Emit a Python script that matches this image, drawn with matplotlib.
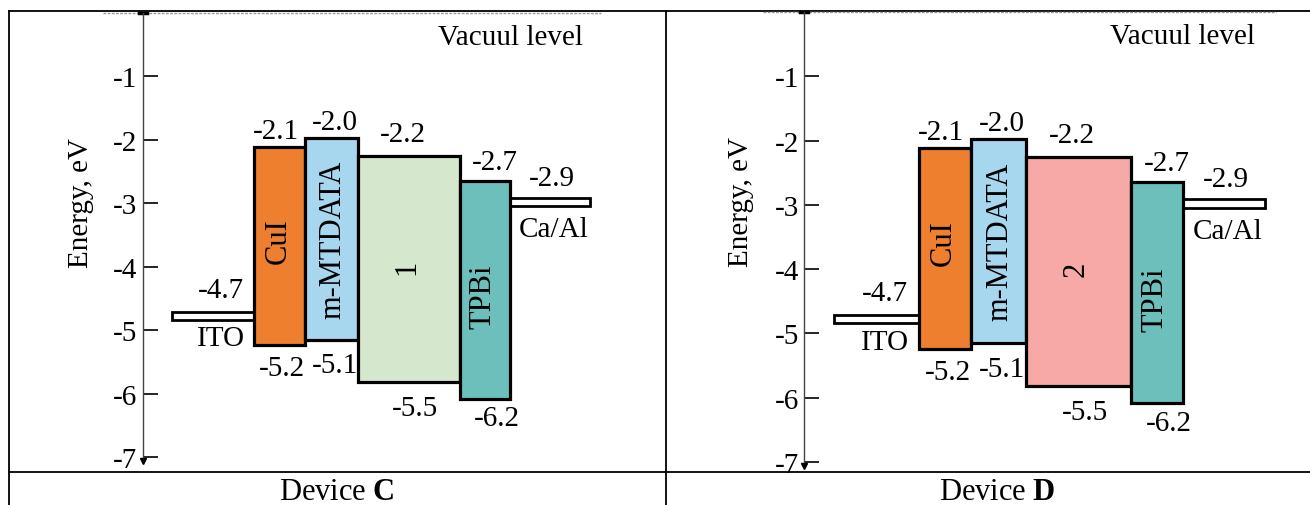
import matplotlib
matplotlib.use("Agg")
import matplotlib.pyplot as plt
from matplotlib.patches import Rectangle

plt.rcParams['font.family'] = ['Liberation Serif', 'DejaVu Serif']
plt.rcParams['mathtext.fontset'] = 'custom'
plt.rcParams['mathtext.rm'] = 'Liberation Serif'
plt.rcParams['mathtext.bf'] = 'Liberation Serif:bold'

# layers of the two devices (left -> right)
layers = ["ITO", "CuI", "m-MTDATA", "emitter", "TPBi", "Ca/Al"]
box_names = ["CuI", "m-MTDATA", "1", "TPBi"]
box_names_d = ["CuI", "m-MTDATA", "2", "TPBi"]

# levels as they are drawn in the picture (eV)
lumo_drawn = [-2.12, -1.97, -2.25, -2.65]
homo_drawn = [-5.24, -5.15, -5.82, -6.08]
ito_level = -4.78
caal_level = -2.98

# values printed on the diagram
lumo_text = ["-2.1", "-2.0", "-2.2", "-2.7"]
homo_text = ["-5.2", "-5.1", "-5.5", "-6.2"]
ito_text = "-4.7"
caal_text = "-2.9"

yticks = [-1, -2, -3, -4, -5, -6, -7]
ytick_labels = ["-1", "-2", "-3", "-4", "-5", "-6", "-7"]

colors_c = ["#EE7F2E", "#A7D7EF", "#D5E8CD", "#6DBFBC"]
colors_d = ["#EE7F2E", "#A7D7EF", "#F6A9A6", "#6DBFBC"]

# horizontal layout (arbitrary units, axis at 0)
edges = [29, 111, 162, 215, 317, 367, 447]
top_lbl_xy = [(133, 0.26), (192, 0.25), (260, 0.34), (352, 0.30)]
bot_lbl_xy = [(139, -0.36), (192, -0.40), (272, -0.41), (354, -0.31)]
in_lbl_xy = [(135, -3.58), (190, -3.56), (264, -3.99), (340, -4.46)]

FS = 21
FS_ROT = 22
W, H = 1310, 506
fig = plt.figure(figsize=(W / 100, H / 100), dpi=100)

# table frame
bg = fig.add_axes([0, 0, 1, 1], zorder=0)
bg.set_xlim(0, W)
bg.set_ylim(H, 0)
bg.axis("off")
bg.plot([9, W], [12, 12], color="black", lw=1.3)
bg.plot([9, W], [473, 473], color="black", lw=1.3)
bg.plot([9, 9], [12, H], color="black", lw=1.3)
bg.plot([666, 666], [12, H], color="black", lw=1.3)
bg.text(337, 493, r"Device $\mathbf{C}$", ha="center", va="center", fontsize=22)
bg.text(997, 493, r"Device $\mathbf{D}$", ha="center", va="center", fontsize=22)


def draw_panel(rect, names, colors, ylab_xy):
    ax = fig.add_axes(rect, zorder=1)
    ax.patch.set_alpha(0)
    ax.set_xlim(-45, 480)
    ax.set_ylim(-7, 0)
    for s in ["top", "right", "bottom"]:
        ax.spines[s].set_visible(False)
    ax.spines["left"].set_position(("data", 0))
    ax.spines["left"].set_color("#444444")
    ax.spines["left"].set_linewidth(1.0)
    ax.set_xticks([])
    ax.set_yticks(yticks)
    ax.set_yticklabels(ytick_labels, fontsize=FS)
    ax.tick_params(axis="y", direction="in", length=11, width=1.2, pad=4)
    ax.set_ylabel("Energy, eV", fontsize=FS)
    ax.yaxis.set_label_coords(*ylab_xy)

    # vacuum level
    ax.plot([-40, 458], [0, 0], color="#999999", lw=1, ls=(0, (2, 1)), clip_on=False)
    ax.plot([-4, 4], [0, 0], color="black", lw=2.5, clip_on=False)
    ax.plot([0], [-7.06], marker="v", color="black", ms=5, clip_on=False)
    ax.text(367, -0.38, "Vacuul level", ha="center", va="center", fontsize=FS)

    # electrodes
    eh = 0.13
    ax.add_patch(Rectangle((edges[0], ito_level - eh / 2), edges[1] - edges[0], eh,
                           facecolor="white", edgecolor="black", lw=2, zorder=2))
    ax.add_patch(Rectangle((edges[5], caal_level - eh / 2), edges[6] - edges[5], eh,
                           facecolor="white", edgecolor="black", lw=2, zorder=2))
    ax.text(78, -4.37, ito_text, ha="center", va="center", fontsize=FS)
    ax.text(78, -5.13, "ITO", ha="center", va="center", fontsize=FS)
    ax.text(409, -2.60, caal_text, ha="center", va="center", fontsize=FS)
    ax.text(411, -3.41, "Ca/Al", ha="center", va="center", fontsize=FS)

    # organic layers
    for i in range(4):
        x0, x1 = edges[i + 1], edges[i + 2]
        ax.add_patch(Rectangle((x0, homo_drawn[i]), x1 - x0, lumo_drawn[i] - homo_drawn[i],
                               facecolor=colors[i], edgecolor="black", lw=2.3, zorder=3))
        ax.text(top_lbl_xy[i][0], lumo_drawn[i] + top_lbl_xy[i][1], lumo_text[i],
                ha="center", va="center", fontsize=FS)
        ax.text(bot_lbl_xy[i][0], homo_drawn[i] + bot_lbl_xy[i][1], homo_text[i],
                ha="center", va="center", fontsize=FS)
        ax.text(in_lbl_xy[i][0], in_lbl_xy[i][1], names[i], rotation=90,
                ha="center", va="center", fontsize=FS_ROT, zorder=4)
    return ax


# left panel: axis at x=143 px, 0 eV at 14 px, -7 eV at 458 px
draw_panel([98 / W, (H - 458) / H, 525 / W, 444 / H], box_names, colors_c, (-0.008, 0.574))
# right panel: axis at x=804 px, 0 eV at 13 px, -7 eV at 463 px
draw_panel([758 / W, (H - 463) / H, 541 / W, 450 / H], box_names_d, colors_d, (-0.007, 0.58))

fig.savefig("out.png", dpi=100)
